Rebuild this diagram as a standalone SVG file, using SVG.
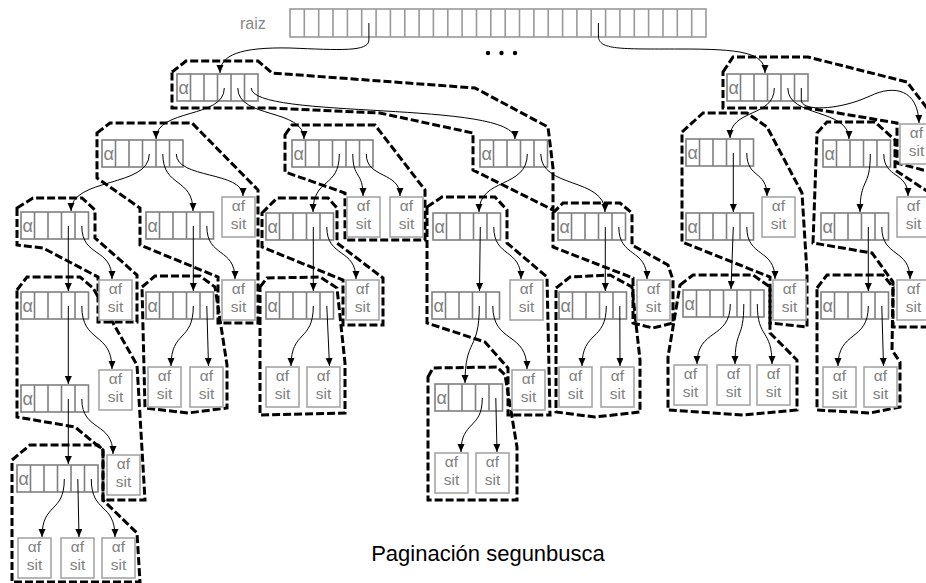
<svg xmlns="http://www.w3.org/2000/svg" width="926" height="583" viewBox="0 0 926 583">
<style>
.arr rect{fill:#fff;stroke:#7f7f7f;stroke-width:1.6}
.arr path{fill:none;stroke:#7f7f7f;stroke-width:1.6}
.arr text{font-family:"Liberation Sans",Arial,sans-serif;font-size:18px;fill:#808080}
.lf rect{fill:#fff;stroke:#a6a6a6;stroke-width:1.6}
.lf text{font-family:"Liberation Sans",Arial,sans-serif;font-size:15.5px;fill:#808080;text-anchor:middle}
.pg{fill:none;stroke:#000;stroke-width:3;stroke-dasharray:8 3}
.cn path{fill:none;stroke:#000;stroke-width:1;marker-end:url(#ah)}
.lbl{font-family:"Liberation Sans",Arial,sans-serif;font-size:16px;fill:#888}
.title{font-family:"Liberation Sans",Arial,sans-serif;font-size:22px;fill:#000;text-anchor:middle}
</style>
<defs>
<marker id="ah" markerUnits="userSpaceOnUse" markerWidth="8" markerHeight="8" refX="8" refY="3.5" orient="auto">
<path d="M0,0 L8,3.5 L0,7 z" fill="#000"/>
</marker>
</defs>
<rect width="926" height="583" fill="#fff"/>

<!-- pages -->
<g id="pages">
<polygon class="pg" points="172,72 186,61 258,61 272,73 475,88 548,127 553,168 553,210 473,170 473,133 380,113 270,108 172,108"/>
<polygon class="pg" points="97,133 110,123 192,123 258,190 258,323 218,323 218,277 140,245 140,208 97,178"/>
<polygon class="pg" points="17,208 33,198 82,198 95,210 95,238 137,275 137,322 98,322 98,277 43,248 17,245"/>
<polygon class="pg" points="17,290 27,277 80,277 93,288 137,365 145,500 103,500 103,450 75,427 17,417"/>
<polygon class="pg" points="12,460 30,445 98,445 103,450 103,500 137,533 140,582 12,582"/>
<polygon class="pg" points="142,287 155,276 200,276 215,287 227,365 227,408 188,413 145,408"/>
<polygon class="pg" points="285,135 292,125 375,125 425,190 425,240 345,240 345,193 285,172"/>
<polygon class="pg" points="262,213 277,198 328,198 337,208 337,243 383,278 383,325 343,325 343,280 262,247"/>
<polygon class="pg" points="260,287 267,278 320,277 337,288 345,363 345,413 260,415"/>
<polygon class="pg" points="427,207 442,197 495,197 507,210 507,243 547,277 550,415 508,415 508,368 485,342 427,323"/>
<polygon class="pg" points="428,377 433,368 497,367 505,375 517,447 517,500 428,500"/>
<polygon class="pg" points="553,213 563,203 620,203 632,213 632,245 668,265 673,280 673,323 653,328 633,323 633,278 553,247"/>
<polygon class="pg" points="556,288 570,277 610,275 632,287 640,360 640,412 595,417 556,412"/>
<polygon class="pg" points="723,72 733,57 808,57 907,82 930,112 930,170 923,170 897,163 897,123 808,108 723,108"/>
<polygon class="pg" points="682,132 703,113 747,113 767,127 802,193 807,273 807,327 770,323 770,277 682,242"/>
<polygon class="pg" points="680,285 693,275 753,275 770,287 770,333 797,360 797,410 743,415 668,410 668,357"/>
<polygon class="pg" points="817,133 827,122 875,122 895,140 895,170 930,193 930,327 893,327 893,282 872,253 813,243"/>
<polygon class="pg" points="817,288 827,275 883,275 893,287 892,350 900,362 900,407 870,413 817,410"/>
</g>

<!-- root array -->
<g id="raiz">
<text class="lbl" x="240" y="29">raiz</text>
<rect x="290" y="9" width="416" height="28" fill="#fff" stroke="#999" stroke-width="1.6"/>
<path fill="none" stroke="#999" stroke-width="1.6" d="M304.3 9v28M318.7 9v28M333 9v28M347.4 9v28M361.7 9v28M376.1 9v28M390.4 9v28M404.8 9v28M419.1 9v28M433.4 9v28M447.8 9v28M462.1 9v28M476.5 9v28M490.8 9v28M505.2 9v28M519.5 9v28M533.9 9v28M548.2 9v28M562.6 9v28M576.9 9v28M591.2 9v28M605.6 9v28M619.9 9v28M634.3 9v28M648.6 9v28M663 9v28M677.3 9v28M691.7 9v28"/>
</g>
<g id="dots" fill="#000"><circle cx="488" cy="53" r="2.2"/><circle cx="501.5" cy="53" r="2.2"/><circle cx="515" cy="53" r="2.2"/></g>

<!-- arrays -->
<g id="A" class="arr"><rect x="177" y="74" width="81" height="27"/><path d="M190.5 74v27M204 74v27M217.5 74v27M231 74v27M244.5 74v27"/><text x="178.5" y="94">α</text></g>
<g id="B" class="arr"><rect x="727" y="74" width="81" height="27"/><path d="M740.5 74v27M754 74v27M767.5 74v27M781 74v27M794.5 74v27"/><text x="728.5" y="94">α</text></g>
<g id="A1" class="arr"><rect x="102" y="140" width="81" height="27"/><path d="M115.5 140v27M129 140v27M142.5 140v27M156 140v27M169.5 140v27"/><text x="103.5" y="160">α</text></g>
<g id="A2" class="arr"><rect x="292" y="140" width="81" height="27"/><path d="M305.5 140v27M319 140v27M332.5 140v27M346 140v27M359.5 140v27"/><text x="293.5" y="160">α</text></g>
<g id="A3" class="arr"><rect x="480" y="140" width="67.5" height="27"/><path d="M493.5 140v27M507 140v27M520.5 140v27M534 140v27"/><text x="481.5" y="160">α</text></g>
<g id="B1" class="arr"><rect x="686" y="139" width="67.5" height="27"/><path d="M699.5 139v27M713 139v27M726.5 139v27M740 139v27"/><text x="687.5" y="159">α</text></g>
<g id="B2" class="arr"><rect x="823" y="140" width="67.5" height="27"/><path d="M836.5 140v27M850 140v27M863.5 140v27M877 140v27"/><text x="824.5" y="160">α</text></g>
<g id="A1a" class="arr"><rect x="21" y="212" width="67.5" height="27"/><path d="M34.5 212v27M48 212v27M61.5 212v27M75 212v27"/><text x="22.5" y="232">α</text></g>
<g id="A1b" class="arr"><rect x="146" y="212" width="67.5" height="27"/><path d="M159.5 212v27M173 212v27M186.5 212v27M200 212v27"/><text x="147.5" y="232">α</text></g>
<g id="A2a" class="arr"><rect x="266" y="213" width="67.5" height="27"/><path d="M279.5 213v27M293 213v27M306.5 213v27M320 213v27"/><text x="267.5" y="233">α</text></g>
<g id="A3a" class="arr"><rect x="433" y="213" width="67.5" height="27"/><path d="M446.5 213v27M460 213v27M473.5 213v27M487 213v27"/><text x="434.5" y="233">α</text></g>
<g id="A3b" class="arr"><rect x="558" y="213" width="67.5" height="27"/><path d="M571.5 213v27M585 213v27M598.5 213v27M612 213v27"/><text x="559.5" y="233">α</text></g>
<g id="B1a" class="arr"><rect x="686" y="213" width="67.5" height="27"/><path d="M699.5 213v27M713 213v27M726.5 213v27M740 213v27"/><text x="687.5" y="233">α</text></g>
<g id="B2a" class="arr"><rect x="821" y="213" width="67.5" height="27"/><path d="M834.5 213v27M848 213v27M861.5 213v27M875 213v27"/><text x="822.5" y="233">α</text></g>
<g id="A1a1" class="arr"><rect x="21" y="292" width="67.5" height="27"/><path d="M34.5 292v27M48 292v27M61.5 292v27M75 292v27"/><text x="22.5" y="312">α</text></g>
<g id="A1b1" class="arr"><rect x="146" y="292" width="67.5" height="27"/><path d="M159.5 292v27M173 292v27M186.5 292v27M200 292v27"/><text x="147.5" y="312">α</text></g>
<g id="A2a1" class="arr"><rect x="266" y="292" width="67.5" height="27"/><path d="M279.5 292v27M293 292v27M306.5 292v27M320 292v27"/><text x="267.5" y="312">α</text></g>
<g id="A3a1" class="arr"><rect x="432" y="292" width="67.5" height="27"/><path d="M445.5 292v27M459 292v27M472.5 292v27M486 292v27"/><text x="433.5" y="312">α</text></g>
<g id="A3b1" class="arr"><rect x="559" y="292" width="67.5" height="27"/><path d="M572.5 292v27M586 292v27M599.5 292v27M613 292v27"/><text x="560.5" y="312">α</text></g>
<g id="B1a1" class="arr"><rect x="683" y="290" width="81" height="27"/><path d="M696.5 290v27M710 290v27M723.5 290v27M737 290v27M750.5 290v27"/><text x="684.5" y="310">α</text></g>
<g id="B2a1" class="arr"><rect x="821" y="292" width="67.5" height="27"/><path d="M834.5 292v27M848 292v27M861.5 292v27M875 292v27"/><text x="822.5" y="312">α</text></g>
<g id="A1a1a" class="arr"><rect x="21" y="385" width="67.5" height="27"/><path d="M34.5 385v27M48 385v27M61.5 385v27M75 385v27"/><text x="22.5" y="405">α</text></g>
<g id="A3a1a" class="arr"><rect x="435" y="384" width="67.5" height="27"/><path d="M448.5 384v27M462 384v27M475.5 384v27M489 384v27"/><text x="436.5" y="404">α</text></g>
<g id="A1a1a1" class="arr"><rect x="17" y="465" width="81" height="27"/><path d="M30.5 465v27M44 465v27M57.5 465v27M71 465v27M84.5 465v27"/><text x="18.5" y="485">α</text></g>

<!-- leaves -->
<g id="lB" class="lf"><rect x="900" y="124" width="33" height="40"/><text x="916.5" y="138">αf</text><text x="916.5" y="155.5">sit</text></g>
<g id="lA1" class="lf"><rect x="222" y="197" width="33" height="40"/><text x="238.5" y="211">αf</text><text x="238.5" y="228.5">sit</text></g>
<g id="lA2a" class="lf"><rect x="347" y="197" width="33" height="40"/><text x="363.5" y="211">αf</text><text x="363.5" y="228.5">sit</text></g>
<g id="lA2b" class="lf"><rect x="390" y="197" width="33" height="40"/><text x="406.5" y="211">αf</text><text x="406.5" y="228.5">sit</text></g>
<g id="lB1" class="lf"><rect x="762" y="197" width="33" height="40"/><text x="778.5" y="211">αf</text><text x="778.5" y="228.5">sit</text></g>
<g id="lB2" class="lf"><rect x="897" y="197" width="33" height="40"/><text x="913.5" y="211">αf</text><text x="913.5" y="228.5">sit</text></g>
<g id="lA1a" class="lf"><rect x="99" y="280" width="33" height="40"/><text x="115.5" y="294">αf</text><text x="115.5" y="311.5">sit</text></g>
<g id="lA1b" class="lf"><rect x="222" y="280" width="33" height="40"/><text x="238.5" y="294">αf</text><text x="238.5" y="311.5">sit</text></g>
<g id="lA2a1" class="lf"><rect x="346" y="280" width="33" height="40"/><text x="362.5" y="294">αf</text><text x="362.5" y="311.5">sit</text></g>
<g id="lA3a" class="lf"><rect x="510" y="280" width="33" height="40"/><text x="526.5" y="294">αf</text><text x="526.5" y="311.5">sit</text></g>
<g id="lA3b" class="lf"><rect x="637" y="280" width="33" height="40"/><text x="653.5" y="294">αf</text><text x="653.5" y="311.5">sit</text></g>
<g id="lB1a" class="lf"><rect x="773" y="280" width="33" height="40"/><text x="789.5" y="294">αf</text><text x="789.5" y="311.5">sit</text></g>
<g id="lB2a" class="lf"><rect x="897" y="280" width="33" height="40"/><text x="913.5" y="294">αf</text><text x="913.5" y="311.5">sit</text></g>
<g id="lA1a1" class="lf"><rect x="99" y="370" width="33" height="40"/><text x="115.5" y="384">αf</text><text x="115.5" y="401.5">sit</text></g>
<g id="lA1b1a" class="lf"><rect x="148" y="367" width="33" height="40"/><text x="164.5" y="381">αf</text><text x="164.5" y="398.5">sit</text></g>
<g id="lA1b1b" class="lf"><rect x="190" y="367" width="33" height="40"/><text x="206.5" y="381">αf</text><text x="206.5" y="398.5">sit</text></g>
<g id="lA2a1a" class="lf"><rect x="266" y="367" width="33" height="40"/><text x="282.5" y="381">αf</text><text x="282.5" y="398.5">sit</text></g>
<g id="lA2a1b" class="lf"><rect x="307" y="367" width="33" height="40"/><text x="323.5" y="381">αf</text><text x="323.5" y="398.5">sit</text></g>
<g id="lA3a1" class="lf"><rect x="512" y="370" width="33" height="40"/><text x="528.5" y="384">αf</text><text x="528.5" y="401.5">sit</text></g>
<g id="lA3b1a" class="lf"><rect x="559" y="367" width="33" height="40"/><text x="575.5" y="381">αf</text><text x="575.5" y="398.5">sit</text></g>
<g id="lA3b1b" class="lf"><rect x="601" y="367" width="33" height="40"/><text x="617.5" y="381">αf</text><text x="617.5" y="398.5">sit</text></g>
<g id="lB1a1a" class="lf"><rect x="674" y="365" width="33" height="40"/><text x="690.5" y="379">αf</text><text x="690.5" y="396.5">sit</text></g>
<g id="lB1a1b" class="lf"><rect x="717" y="365" width="33" height="40"/><text x="733.5" y="379">αf</text><text x="733.5" y="396.5">sit</text></g>
<g id="lB1a1c" class="lf"><rect x="757" y="365" width="33" height="40"/><text x="773.5" y="379">αf</text><text x="773.5" y="396.5">sit</text></g>
<g id="lB2a1a" class="lf"><rect x="823" y="367" width="33" height="40"/><text x="839.5" y="381">αf</text><text x="839.5" y="398.5">sit</text></g>
<g id="lB2a1b" class="lf"><rect x="864" y="367" width="33" height="40"/><text x="880.5" y="381">αf</text><text x="880.5" y="398.5">sit</text></g>
<g id="lA1a1a" class="lf"><rect x="107" y="455" width="33" height="40"/><text x="123.5" y="469">αf</text><text x="123.5" y="486.5">sit</text></g>
<g id="lA3a1aa" class="lf"><rect x="435" y="453" width="33" height="40"/><text x="451.5" y="467">αf</text><text x="451.5" y="484.5">sit</text></g>
<g id="lA3a1ab" class="lf"><rect x="476" y="453" width="33" height="40"/><text x="492.5" y="467">αf</text><text x="492.5" y="484.5">sit</text></g>
<g id="lL1" class="lf"><rect x="18" y="538" width="33" height="40"/><text x="34.5" y="552">αf</text><text x="34.5" y="569.5">sit</text></g>
<g id="lL2" class="lf"><rect x="61" y="538" width="33" height="40"/><text x="77.5" y="552">αf</text><text x="77.5" y="569.5">sit</text></g>
<g id="lL3" class="lf"><rect x="102" y="538" width="33" height="40"/><text x="118.5" y="552">αf</text><text x="118.5" y="569.5">sit</text></g>

<!-- connectors -->
<g id="connectors" class="cn">
<path d="M368.9 23 L368.9 40 C368.9 52 340 50 290 48 C240 47 220 55 220 73"/>
<path d="M598.4 23 L598.4 36 C598.4 50 620 49 680 49 C740 49 765 52 765 73"/>
<path d="M224.3 88 C224.3 119 156 108 156 139"/>
<path d="M237.8 88 C237.8 119 304 108 304 139"/>
<path d="M251.3 88 C251.3 120 515 100 515 139"/>
<path d="M774.3 88 C774.3 118 730 108 730 138"/>
<path d="M787.8 88 C787.8 118 849 108 849 139"/>
<path d="M801.3 88 L801.3 100 C801.3 112 840 110 870 96 C895 84 918 90 919 123"/>
<path d="M149.3 154 C149.3 188 71 177 71 211"/>
<path d="M162.8 154 C162.8 188 193 177 193 211"/>
<path d="M176.3 154 C176.3 179 243 171 243 196"/>
<path d="M339.3 154 C339.3 189 313 177 313 212"/>
<path d="M352.8 154 C352.8 179 363 171 363 196"/>
<path d="M366.3 154 C366.3 179 400 171 400 196"/>
<path d="M527.3 154 C527.3 189 479 177 479 212"/>
<path d="M540.8 154 C540.8 189 605 177 605 212"/>
<path d="M733.3 153 L733.3 212"/>
<path d="M746.8 153 C746.8 179 767 170 767 196"/>
<path d="M870.3 154 C870.3 189 860 177 860 212"/>
<path d="M883.8 154 C883.8 179 908 171 908 196"/>
<path d="M68.3 226 L68.3 291"/>
<path d="M81.8 226 C81.8 258 112 247 112 279"/>
<path d="M193.3 226 L193.3 291"/>
<path d="M206.8 226 C206.8 258 235 247 235 279"/>
<path d="M313.3 227 L313.3 291"/>
<path d="M326.8 227 C326.8 258 356 248 356 279"/>
<path d="M480.3 227 L479.5 291"/>
<path d="M493.8 227 C493.8 258 521 248 521 279"/>
<path d="M605.3 227 L605.3 291"/>
<path d="M618.8 227 C618.8 258 647 248 647 279"/>
<path d="M733.3 227 L731 289"/>
<path d="M746.8 227 C746.8 258 775 248 775 279"/>
<path d="M868.3 227 L868.3 291"/>
<path d="M881.8 227 C881.8 258 910 248 910 279"/>
<path d="M68.3 306 L68.3 384"/>
<path d="M81.8 306 C81.8 344 112 331 112 369"/>
<path d="M193.3 306 C193.3 342 171 330 171 366"/>
<path d="M206.8 306 L208.5 366"/>
<path d="M313.3 306 C313.3 342 291 330 291 366"/>
<path d="M326.8 306 L329.5 366"/>
<path d="M479.3 306 C479.3 352 465 337 465 383"/>
<path d="M492.8 306 C492.8 344 527 331 527 369"/>
<path d="M606.3 306 C606.3 342 582 330 582 366"/>
<path d="M619.8 306 L620 366"/>
<path d="M730.3 304 C730.3 340 697 328 697 364"/>
<path d="M743.8 304 C743.8 340 735 328 735 364"/>
<path d="M757.3 304 C757.3 340 772 328 772 364"/>
<path d="M868.3 306 C868.3 342 838 330 838 366"/>
<path d="M881.8 306 L883.5 366"/>
<path d="M68.3 399 L68.3 464"/>
<path d="M81.8 399 C81.8 432 113 421 113 454"/>
<path d="M482.3 398 C482.3 430 461 420 461 452"/>
<path d="M495.8 398 L497 452"/>
<path d="M64.3 479 C64.3 514 42 502 42 537"/>
<path d="M77.8 479 L79 537"/>
<path d="M91.3 479 C91.3 514 115 502 115 537"/>
</g>

<text class="title" x="488" y="561">Paginación segunbusca</text>
</svg>
